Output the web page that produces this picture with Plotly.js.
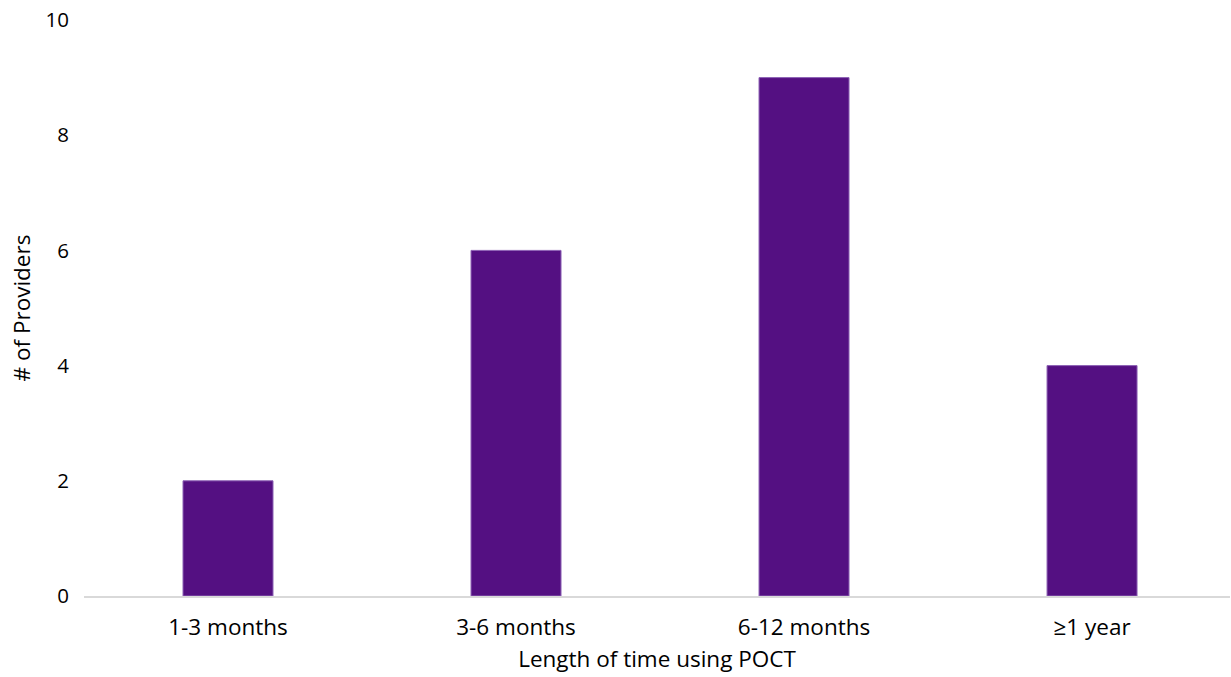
<!DOCTYPE html>
<html>
<head>
<meta charset="utf-8">
<script src="https://cdn.plot.ly/plotly-3.0.1.min.js"></script>
<style>html,body{margin:0;padding:0;background:#fff;}#chart{width:1231px;height:677px;}</style>
</head>
<body>
<div id="chart"></div>
<script>
var categories = ["1-3 months", "3-6 months", "6-12 months", "\u22651 year"];
var providers = [2, 6, 9, 4];
var yTicks = [0, 2, 4, 6, 8, 10];

var fontFam = "Open Sans, Liberation Sans, Arial, sans-serif";

var trace = {
  type: "bar",
  x: categories,
  y: providers,
  marker: { color: "#541082", line: { color: "#8d62b5", width: 1 } },
  hoverinfo: "x+y"
};

var layout = {
  width: 1231,
  height: 677,
  margin: { l: 84, r: 1, t: 20, b: 81 },
  paper_bgcolor: "#ffffff",
  plot_bgcolor: "#ffffff",
  bargap: 0.6875,
  showlegend: false,
  font: { family: fontFam, color: "#000000", size: 22 },
  xaxis: {
    type: "category",
    range: [-0.5, 3.479],
    showgrid: false,
    zeroline: false,
    showline: true,
    linecolor: "#d9d9d9",
    linewidth: 1.5,
    ticks: "",
    ticklabelstandoff: 10,
    tickfont: { family: fontFam, size: 22.5, color: "#000" },
    title: { text: "Length of time using POCT", font: { family: fontFam, size: 22.5, color: "#000" }, standoff: 10 },
    fixedrange: true
  },
  yaxis: {
    range: [0, 10],
    tickvals: yTicks,
    ticktext: yTicks.map(String),
    showgrid: false,
    zeroline: false,
    showline: false,
    ticks: "",
    ticklabelstandoff: 14,
    tickfont: { family: fontFam, size: 20.5, color: "#000" },
    title: { text: "# of Providers", font: { family: fontFam, size: 22.5, color: "#000" }, standoff: 8 },
    fixedrange: true
  }
};

Plotly.newPlot("chart", [trace], layout, { displayModeBar: false, staticPlot: true });
</script>
</body>
</html>
